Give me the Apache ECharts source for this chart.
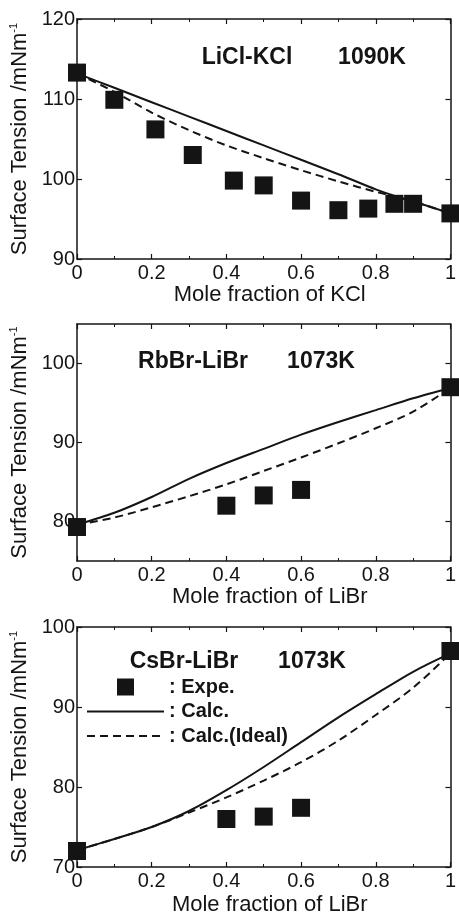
<!DOCTYPE html>
<html>
<head>
<meta charset="utf-8">
<script src="https://cdn.jsdelivr.net/npm/echarts@6/dist/echarts.min.js"></script>
<style>
html,body{margin:0;padding:0;background:#ffffff;}
#chart{width:459px;height:918px;}
</style>
</head>
<body>
<div id="chart"></div>
<script>
// ---------- Panel 1: LiCl-KCl, 1090K ----------
const liclExpX   = [0, 0.10, 0.21, 0.31, 0.42, 0.50, 0.60, 0.70, 0.78, 0.85, 0.90, 1.00];
const liclExpY   = [113.3, 109.9, 106.2, 103.0, 99.8, 99.2, 97.3, 96.1, 96.3, 96.9, 96.9, 95.7];
const liclLineX  = [0, 0.1, 0.2, 0.3, 0.4, 0.5, 0.6, 0.7, 0.8, 0.87, 0.9, 1.0];
const liclCalc   = [113.2, 111.4, 109.6, 107.8, 106.0, 104.2, 102.4, 100.6, 98.7, 97.6, 97.2, 95.7];
const liclIdeal  = [113.2, 110.9, 108.3, 106.1, 104.2, 102.6, 101.1, 99.7, 98.4, 97.6, 97.2, 95.7];

// ---------- Panel 2: RbBr-LiBr, 1073K ----------
const rbExpX     = [0, 0.40, 0.50, 0.60, 1.00];
const rbExpY     = [79.3, 82.0, 83.3, 84.0, 97.0];
const rbLineX    = [0, 0.1, 0.2, 0.3, 0.4, 0.5, 0.6, 0.7, 0.8, 0.9, 1.0];
const rbCalc     = [79.6, 81.1, 83.1, 85.4, 87.4, 89.2, 91.0, 92.6, 94.1, 95.6, 96.9];
const rbIdeal    = [79.6, 80.5, 81.8, 83.2, 84.7, 86.4, 88.1, 89.9, 91.8, 93.9, 96.9];

// ---------- Panel 3: CsBr-LiBr, 1073K ----------
const csExpX     = [0, 0.40, 0.50, 0.60, 1.00];
const csExpY     = [72.0, 76.0, 76.3, 77.4, 97.0];
const csLineX    = [0, 0.1, 0.2, 0.3, 0.4, 0.5, 0.6, 0.7, 0.8, 0.9, 1.0];
const csCalc     = [72.1, 73.5, 75.0, 77.0, 79.6, 82.5, 85.6, 88.7, 91.6, 94.4, 96.7];
const csIdeal    = [72.1, 73.5, 75.0, 76.8, 78.7, 80.8, 83.1, 85.8, 89.0, 92.4, 96.7];

// ---------- Axis ticks / labels ----------
const xTickValues = [0, 0.2, 0.4, 0.6, 0.8, 1];
const yTicks1 = [90, 100, 110, 120];
const yTicks2 = [80, 90, 100];
const yTicks3 = [70, 80, 90, 100];

const xNames = ['Mole fraction of KCl', 'Mole fraction of LiBr', 'Mole fraction of LiBr'];
const yName = 'Surface Tension /mNm{sup|-1}';
const legendNames = ['Expe.', 'Calc.', 'Calc.(Ideal)'];

const FONT = '"Liberation Sans", Arial, Helvetica, sans-serif';
const INK = '#141414';

const zip = (xs, ys) => xs.map((x, i) => [x, ys[i]]);

const grids = [
  {left: 77, top: 19,  width: 379, height: 240},
  {left: 77, top: 324, width: 379, height: 237},
  {left: 77, top: 627, width: 379, height: 240}
];
const yRanges = [
  {min: 90, max: 120, interval: 10, ticks: yTicks1},
  {min: 75, max: 105, interval: 5,  ticks: yTicks2},
  {min: 70, max: 100, interval: 10, ticks: yTicks3}
];
const xNameGaps = [24, 17, 27];

const xAxes = [], yAxes = [];
grids.forEach((g, i) => {
  const axLine = {show: true, onZero: false, lineStyle: {color: INK, width: 1.5}};
  const tick = {show: true, inside: true, length: 5, lineStyle: {color: INK, width: 1.2}};
  const minor = {show: true, splitNumber: 2, length: 3, lineStyle: {color: INK, width: 1}};
  xAxes.push({
    gridIndex: i, type: 'value', position: 'bottom', min: 0, max: 1, interval: 0.2,
    axisLine: axLine, axisTick: tick, minorTick: minor, splitLine: {show: false},
    axisLabel: {margin: 4, fontSize: 20, color: INK, fontFamily: FONT,
      customValues: xTickValues, formatter: v => String(+v.toFixed(1))},
    name: xNames[i], nameLocation: 'middle', nameGap: xNameGaps[i],
    nameTextStyle: {fontSize: 22, color: INK, fontFamily: FONT, padding: [0, 0, 0, 12]}
  });
  xAxes.push({
    gridIndex: i, type: 'value', position: 'top', min: 0, max: 1, interval: 0.2,
    axisLine: axLine, axisTick: tick, minorTick: minor, splitLine: {show: false},
    axisLabel: {show: false}
  });
  const r = yRanges[i];
  yAxes.push({
    gridIndex: i, type: 'value', position: 'left', min: r.min, max: r.max, interval: r.interval,
    axisLine: axLine,
    axisTick: {show: true, inside: true, length: 5, lineStyle: {color: INK, width: 1.2}, customValues: r.ticks},
    splitLine: {show: false},
    axisLabel: {margin: 2, fontSize: 20, color: INK, fontFamily: FONT, customValues: r.ticks},
    name: yName, nameLocation: 'middle', nameGap: 45,
    nameTextStyle: {fontSize: 22, color: INK, fontFamily: FONT,
      rich: {sup: {fontSize: 11, verticalAlign: 'top', color: INK, fontFamily: FONT}}}
  });
  yAxes.push({
    gridIndex: i, type: 'value', position: 'right', min: r.min, max: r.max, interval: r.interval,
    axisLine: axLine,
    axisTick: {show: true, inside: true, length: 5, lineStyle: {color: INK, width: 1.2}, customValues: r.ticks},
    splitLine: {show: false}, axisLabel: {show: false}
  });
});

function lineSeries(name, gi, xs, ys, dashed) {
  return {
    name, type: 'line', xAxisIndex: 2 * gi, yAxisIndex: 2 * gi,
    data: zip(xs, ys), symbol: 'none', smooth: 0.3,
    lineStyle: {color: INK, width: 2, type: dashed ? [8, 5] : 'solid'},
    itemStyle: {color: INK}, z: 2
  };
}
function expSeries(name, gi, xs, ys) {
  return {
    name, type: 'scatter', xAxisIndex: 2 * gi, yAxisIndex: 2 * gi,
    data: zip(xs, ys), symbol: 'rect', symbolSize: 18,
    itemStyle: {color: INK, opacity: 1}, z: 3
  };
}

const series = [
  lineSeries('LiCl-KCl Calc.', 0, liclLineX, liclCalc, false),
  lineSeries('LiCl-KCl Calc.(Ideal)', 0, liclLineX, liclIdeal, true),
  expSeries('LiCl-KCl Expe.', 0, liclExpX, liclExpY),
  lineSeries('RbBr-LiBr Calc.', 1, rbLineX, rbCalc, false),
  lineSeries('RbBr-LiBr Calc.(Ideal)', 1, rbLineX, rbIdeal, true),
  expSeries('RbBr-LiBr Expe.', 1, rbExpX, rbExpY),
  lineSeries(legendNames[1], 2, csLineX, csCalc, false),
  lineSeries(legendNames[2], 2, csLineX, csIdeal, true),
  expSeries(legendNames[0], 2, csExpX, csExpY)
];

const titleStyle = {fontSize: 23, fontWeight: 'bold', color: INK, fontFamily: FONT};
const mkTitle = (text, left, top) => ({text, left, top, padding: 0,
  textAlign: 'center', textVerticalAlign: 'middle', textStyle: titleStyle});

const option = {
  backgroundColor: '#ffffff',
  animation: false,
  title: [
    mkTitle('LiCl-KCl', 247, 58),
    mkTitle('1090K', 372, 58),
    mkTitle('RbBr-LiBr', 193, 362),
    mkTitle('1073K', 321, 362),
    mkTitle('CsBr-LiBr', 184, 662),
    mkTitle('1073K', 312, 662)
  ],
  grid: grids,
  xAxis: xAxes,
  yAxis: yAxes,
  legend: {
    orient: 'vertical', left: 86, top: 677, padding: 0,
    itemWidth: 77, itemHeight: 17, itemGap: 4.5, selectedMode: false,
    formatter: ': {name}',
    textStyle: {fontSize: 20, fontWeight: 'bold', color: INK, fontFamily: FONT},
    data: [
      {name: legendNames[0], icon: 'path://M0,0L10,0L10,10L0,10Z'},
      {name: legendNames[1], itemStyle: {opacity: 0}},
      {name: legendNames[2], itemStyle: {opacity: 0}}
    ]
  },
  series
};

const chart = echarts.init(document.getElementById('chart'), null, {renderer: 'canvas'});
chart.setOption(option);
</script>
</body>
</html>
